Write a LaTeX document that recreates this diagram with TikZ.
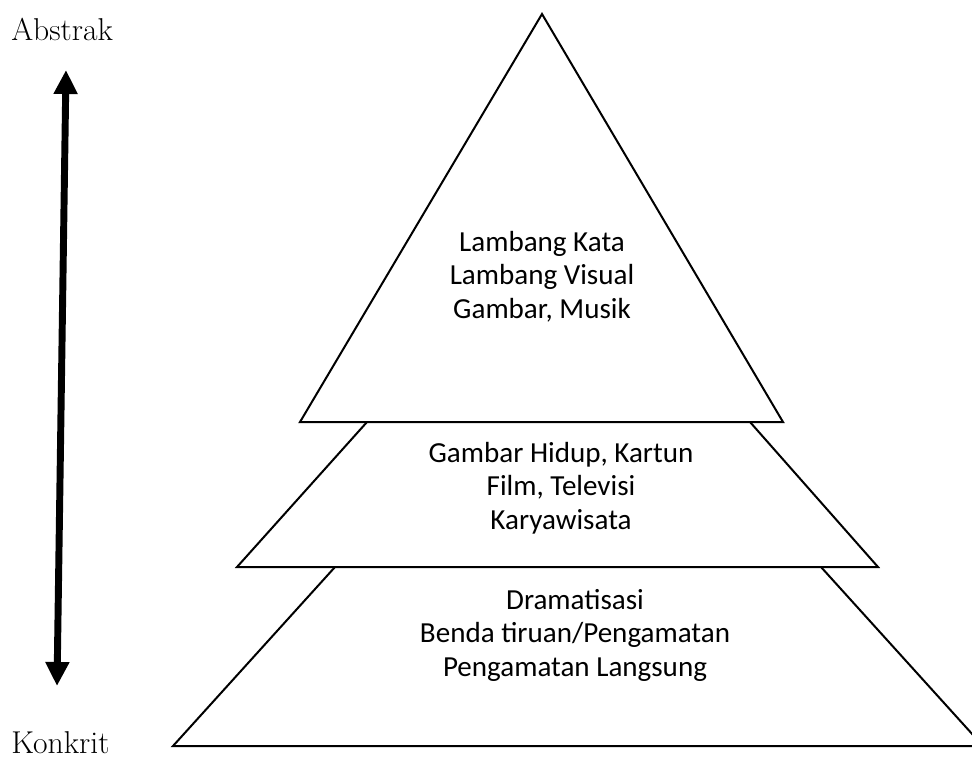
\documentclass[tikz,border=0pt]{standalone}
\usepackage{fontspec}
\newfontfamily\lvlfont{Carlito}
\usetikzlibrary{arrows.meta}
\tikzset{
  lvlline/.style={line width=1.5pt,line join=miter},
  lvltext/.style={font=\lvlfont\fontsize{21.8}{24.75}\selectfont,inner sep=0pt,anchor=base},
  axtext/.style={font=\fontsize{23.7}{28}\selectfont,inner sep=0pt,anchor=base west},
  axarrow/.style={line width=5.2pt,{Triangle[length=18pt,width=17pt]}-{Triangle[length=18pt,width=17pt]}},
}
\begin{document}
\begin{tikzpicture}[x=0.75pt,y=-0.75pt]
\pgfmathsetmacro{\kstep}{33.5}
\useasboundingbox (0,0) rectangle (972,758);
\clip (0,0) rectangle (972,758);
% pyramid levels
\draw[lvlline] (542,14) -- (300,422) -- (783,422) -- cycle;
\draw[lvlline] (367,422) -- (237,567) -- (878,567) -- (750,422);
\draw[lvlline] (335,567) -- (173,746) -- (983,746) -- (821,567);
% level texts
\foreach \ky/\lb in {0/{Lambang Kata},1/{Lambang Visual},2/{Gambar, Musik}}{\node[lvltext] (top\ky) at (542,251+\ky*\kstep) {\lb};}
\foreach \ky/\lb in {0/{Gambar Hidup, Kartun},1/{Film, Televisi},2/{Karyawisata}}{\node[lvltext] (mid\ky) at (561,462+\ky*\kstep) {\lb};}
\foreach \ky/\lb in {0/{Dramatisasi},1/{Benda tiruan/Pengamatan},2/{Pengamatan Langsung}}{\node[lvltext] (bot\ky) at (575,609+\ky*\kstep) {\lb};}
% axis
\node[axtext] (abs) at (11,40) {Abstrak};
\node[axtext] (kon) at (11,753) {Konkrit};
\coordinate (atop) at (66,70);
\coordinate (abot) at (57,686);
\draw[axarrow] (abot) -- (atop);
%\draw[gray,dashed] (0,0) rectangle (972,758);
\end{tikzpicture}
\end{document}
